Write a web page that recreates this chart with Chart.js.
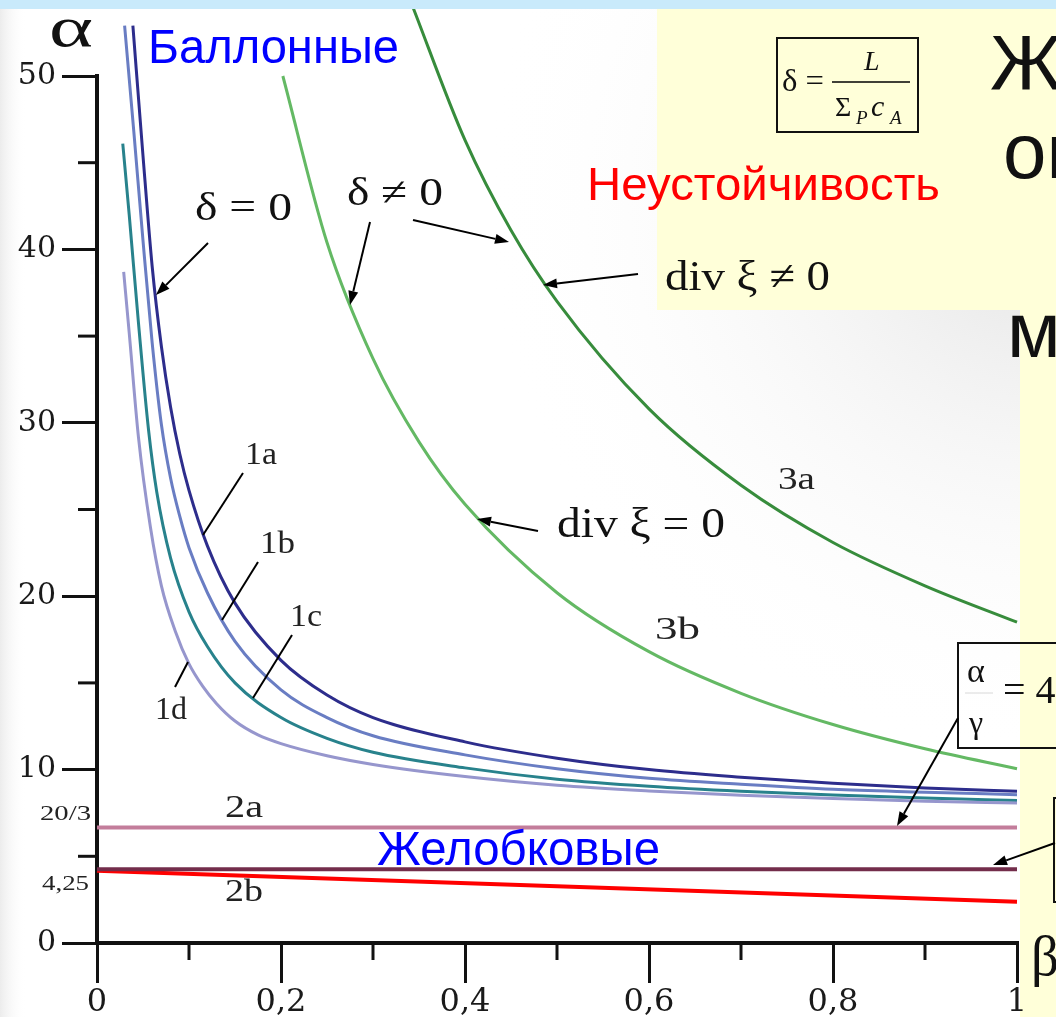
<!DOCTYPE html>
<html>
<head>
<meta charset="utf-8">
<script src="https://cdn.jsdelivr.net/npm/chart.js@4.4.0/dist/chart.umd.min.js"></script>
<style>
  html, body { margin: 0; padding: 0; background: #fff; }
  canvas { display: block; }
</style>
</head>
<body>
<canvas id="chart" width="1056" height="1017"></canvas>
<script>
// ballooning curves, delta = 0
const beta1a = [0.039, 0.05, 0.06, 0.07, 0.08, 0.09, 0.1, 0.12, 0.15, 0.2, 0.25, 0.3, 0.4, 0.5, 0.6, 0.7, 0.8, 0.9, 1];
const alpha1a = [52.9, 45.4, 39.0, 34.4, 30.9, 28.2, 26.1, 22.9, 19.6, 16.3, 14.3, 13.0, 11.6, 10.66, 10.0, 9.56, 9.21, 8.94, 8.75];
const beta1b = [0.03, 0.04, 0.05, 0.06, 0.07, 0.08, 0.09, 0.1, 0.12, 0.15, 0.2, 0.25, 0.3, 0.4, 0.5, 0.6, 0.7, 0.8, 0.9, 1];
const alpha1b = [52.9, 46.8, 40.5, 34.6, 29.9, 26.8, 24.6, 22.8, 20.2, 17.4, 14.6, 13.0, 11.95, 10.85, 10.05, 9.5, 9.15, 8.86, 8.7, 8.55];
const beta1c = [0.028, 0.035, 0.045, 0.056, 0.065, 0.08, 0.1, 0.12, 0.15, 0.2, 0.25, 0.3, 0.4, 0.5, 0.6, 0.7, 0.8, 0.9, 1];
const alpha1c = [46.1, 42.0, 35.8, 29.6, 26.0, 22.2, 19.1, 17.1, 15.0, 13.0, 11.8, 11.0, 10.1, 9.45, 9.04, 8.75, 8.53, 8.36, 8.22];
const beta1d = [0.029, 0.035, 0.045, 0.058, 0.07, 0.085, 0.1, 0.115, 0.13, 0.15, 0.175, 0.2, 0.25, 0.3, 0.4, 0.5, 0.6, 0.7, 0.8, 0.9, 1];
const alpha1d = [38.7, 35.2, 29.2, 24.0, 20.6, 18.0, 16.1, 14.8, 13.8, 12.8, 12.0, 11.5, 10.8, 10.3, 9.6, 9.1, 8.77, 8.52, 8.33, 8.18, 8.07];

// delta != 0 curves
const beta3a = [0.341, 0.4, 0.45, 0.5, 0.6, 0.7, 0.8, 0.9, 1];
const alpha3a = [54.3, 46.3, 41.1, 37.0, 30.8, 26.4, 23.1, 20.6, 18.5];
const beta3b = [0.202, 0.25, 0.3, 0.35, 0.4, 0.5, 0.6, 0.7, 0.8, 0.9, 1];
const alpha3b = [50.0, 40.4, 33.7, 28.9, 25.3, 20.2, 16.8, 14.4, 12.6, 11.2, 10.05];

// flute (interchange) limits
const betaLine = [0, 1];
const alpha2a = [6.667, 6.667];
const alpha2b = [4.25, 4.25];
const alphaRed = [4.17, 2.38];

const xTicks = [0, 0.2, 0.4, 0.6, 0.8, 1];
const xTickLabels = ['0', '0,2', '0,4', '0,6', '0,8', '1'];
const xMinor = [0.1, 0.3, 0.5, 0.7, 0.9];
const yTicks = [0, 10, 20, 30, 40, 50];
const yTickLabels = ['0', '10', '20', '30', '40', '50'];
const yMinor = [5, 15, 25, 35, 45];

function pairs(xs, ys) {
  return xs.map(function (x, i) { return { x: x, y: ys[i] }; });
}

function curve(label, xs, ys, color, width) {
  return {
    label: label,
    data: pairs(xs, ys),
    borderColor: color,
    borderWidth: width,
    pointRadius: 0,
    cubicInterpolationMode: 'monotone',
    clip: false
  };
}

function txt(ctx, str, x, y, font, color, width) {
  ctx.save();
  ctx.font = font;
  ctx.fillStyle = color;
  ctx.textAlign = 'left';
  ctx.textBaseline = 'alphabetic';
  ctx.translate(x, y);
  if (width) ctx.scale(width / ctx.measureText(str).width, 1);
  ctx.fillText(str, 0, 0);
  ctx.restore();
}

function seg(ctx, x1, y1, x2, y2, w) {
  ctx.save();
  ctx.strokeStyle = '#000';
  ctx.lineWidth = w || 2;
  ctx.beginPath();
  ctx.moveTo(x1, y1);
  ctx.lineTo(x2, y2);
  ctx.stroke();
  ctx.restore();
}

function arrow(ctx, x1, y1, x2, y2) {
  let a = Math.atan2(y2 - y1, x2 - x1);
  let len = 14, hw = 5;
  let bx = x2 - len * Math.cos(a), by = y2 - len * Math.sin(a);
  seg(ctx, x1, y1, bx, by, 2);
  ctx.save();
  ctx.fillStyle = '#000';
  ctx.beginPath();
  ctx.moveTo(x2, y2);
  ctx.lineTo(bx - hw * Math.sin(a), by + hw * Math.cos(a));
  ctx.lineTo(bx + hw * Math.sin(a), by - hw * Math.cos(a));
  ctx.closePath();
  ctx.fill();
  ctx.restore();
}

const serif = '"Liberation Serif", "Times New Roman", serif';
const tickSerif = '"DejaVu Serif", "Liberation Serif", serif';
const sans = '"Liberation Sans", Arial, sans-serif';

const slideBackground = {
  id: 'slideBackground',
  beforeDraw: function (chart) {
    const ctx = chart.ctx;
    ctx.save();
    ctx.fillStyle = '#ffffff';
    ctx.fillRect(0, 0, chart.width, chart.height);
    let g = ctx.createRadialGradient(1040, 200, 20, 1040, 200, 560);
    g.addColorStop(0, 'rgba(228,228,228,1)');
    g.addColorStop(1, 'rgba(255,255,255,0)');
    ctx.fillStyle = g;
    ctx.fillRect(0, 0, chart.width, chart.height);
    let l = ctx.createLinearGradient(0, 0, 26, 0);
    l.addColorStop(0, 'rgba(236,236,236,1)');
    l.addColorStop(1, 'rgba(255,255,255,0)');
    ctx.fillStyle = l;
    ctx.fillRect(0, 0, 26, chart.height);
    ctx.fillStyle = '#ffffd9';
    ctx.fillRect(657, 9, 399, 301);
    ctx.fillRect(1020, 309, 36, 708);
    ctx.restore();
  }
};

const annotations = {
  id: 'annotations',
  afterDraw: function (chart) {
    const ctx = chart.ctx;
    const xs = chart.scales.x, ys = chart.scales.y;

    // minor ticks
    ctx.save();
    ctx.strokeStyle = '#111';
    ctx.lineWidth = 3;
    xMinor.forEach(function (v) {
      let px = xs.getPixelForValue(v);
      ctx.beginPath();
      ctx.moveTo(px, ys.bottom);
      ctx.lineTo(px, ys.bottom + 17);
      ctx.stroke();
    });
    yMinor.forEach(function (v) {
      let py = ys.getPixelForValue(v);
      ctx.beginPath();
      ctx.moveTo(xs.left, py);
      ctx.lineTo(xs.left - 19, py);
      ctx.stroke();
    });
    ctx.restore();

    // top strip
    ctx.save();
    ctx.fillStyle = '#c9eafb';
    ctx.fillRect(0, 0, chart.width, 9);
    ctx.restore();

    // axis symbols and special tick labels
    txt(ctx, 'α', 49, 46, '58px ' + serif, '#111', 44);
    txt(ctx, 'β', 1031, 975, '58px ' + serif, '#111', 28);
    txt(ctx, '20/3', 40, 820, '21px ' + serif, '#222', 51);
    txt(ctx, '4,25', 42, 890, '21px ' + serif, '#222', 47);

    // region names
    txt(ctx, 'Баллонные', 148, 63, '48px ' + sans, '#0000ff', 251);
    txt(ctx, 'Желобковые', 377, 865, '48px ' + sans, '#0000ff', 283);
    txt(ctx, 'Неустойчивость', 587, 200, '46px ' + sans, '#ff0000', 353);

    // slide text cut off at the right
    txt(ctx, 'Ж', 990, 90, '78px ' + sans, '#111');
    txt(ctx, 'ог', 1003, 178, '78px ' + sans, '#111');
    txt(ctx, 'м', 1007, 357, '78px ' + sans, '#111');

    // curve labels
    const lab = '31px ' + serif;
    txt(ctx, '1a', 245, 464, lab, '#222', 32);
    txt(ctx, '1b', 260, 553, lab, '#222', 35);
    txt(ctx, '1c', 290, 626, lab, '#222', 32);
    txt(ctx, '1d', 155, 719, lab, '#222', 32);
    txt(ctx, '3a', 778, 489, lab, '#222', 37);
    txt(ctx, '3b', 655, 639, lab, '#222', 45);
    txt(ctx, '2a', 225, 817, lab, '#222', 38);
    txt(ctx, '2b', 225, 901, lab, '#222', 38);
    seg(ctx, 243, 473, 203, 535);
    seg(ctx, 258, 562, 222, 620);
    seg(ctx, 292, 635, 253, 698);
    seg(ctx, 188, 662, 175, 687);

    // delta labels and arrows
    const big = '40px ' + serif;
    txt(ctx, 'δ = 0', 195, 220, big, '#111', 97);
    arrow(ctx, 208, 243, 156, 295);
    txt(ctx, 'δ ≠ 0', 347, 205, big, '#111', 96);
    arrow(ctx, 370, 222, 350, 305);
    arrow(ctx, 413, 220, 509, 242);
    txt(ctx, 'div ξ ≠ 0', 665, 290, '42px ' + serif, '#111', 165);
    arrow(ctx, 638, 274, 543, 285);
    txt(ctx, 'div ξ = 0', 557, 537, '42px ' + serif, '#111', 168);
    arrow(ctx, 538, 531, 477, 519);

    // delta definition box
    ctx.save();
    ctx.strokeStyle = '#111';
    ctx.lineWidth = 2;
    ctx.strokeRect(777, 38, 141, 94);
    ctx.restore();
    txt(ctx, 'δ =', 782, 91, '32px ' + serif, '#111', 42);
    seg(ctx, 832, 82, 910, 82, 1.5);
    txt(ctx, 'L', 864, 70, 'italic 28px ' + serif, '#111');
    txt(ctx, 'Σ', 835, 116, '28px ' + serif, '#111');
    txt(ctx, 'P', 856, 124, 'italic 19px ' + serif, '#111');
    txt(ctx, 'c', 871, 116, 'italic 30px ' + serif, '#111');
    txt(ctx, 'A', 890, 124, 'italic 19px ' + serif, '#111');

    // alpha / gamma = 4 box
    ctx.save();
    ctx.strokeStyle = '#111';
    ctx.lineWidth = 2;
    ctx.strokeRect(958, 643, 110, 105);
    ctx.strokeRect(1054, 798, 20, 104);
    ctx.restore();
    txt(ctx, 'α', 967, 682, '34px ' + serif, '#111');
    ctx.save();
    ctx.strokeStyle = '#d8d8d8';
    ctx.lineWidth = 1;
    ctx.beginPath();
    ctx.moveTo(965, 693);
    ctx.lineTo(993, 693);
    ctx.stroke();
    ctx.restore();
    txt(ctx, 'γ', 969, 733, '32px ' + serif, '#111');
    txt(ctx, '= 4', 1003, 703, '40px ' + serif, '#111');
    arrow(ctx, 958, 718, 897, 826);
    arrow(ctx, 1055, 843, 993, 865);
  }
};

new Chart(document.getElementById('chart'), {
  type: 'line',
  data: {
    datasets: [
      curve('3a', beta3a, alpha3a, 'rgb(55,140,60)', 3),
      curve('3b', beta3b, alpha3b, 'rgb(100,185,100)', 3),
      curve('1d', beta1d, alpha1d, 'rgb(150,150,205)', 3),
      curve('1c', beta1c, alpha1c, 'rgb(40,130,140)', 3),
      curve('1b', beta1b, alpha1b, 'rgb(105,125,195)', 3),
      curve('1a', beta1a, alpha1a, 'rgb(45,45,140)', 3),
      curve('2a', betaLine, alpha2a, 'rgb(195,125,155)', 4),
      curve('2b', betaLine, alpha2b, 'rgb(115,45,75)', 4),
      curve('limit', betaLine, alphaRed, '#ff0000', 4)
    ]
  },
  options: {
    responsive: false,
    animation: false,
    layout: { padding: { top: 76, right: 39, bottom: 0, left: 0 } },
    plugins: {
      legend: { display: false },
      tooltip: { enabled: false }
    },
    scales: {
      x: {
        type: 'linear',
        min: 0,
        max: 1,
        afterBuildTicks: function (s) { s.ticks = xTicks.map(function (v) { return { value: v }; }); },
        afterFit: function (s) { s.height = 74; },
        grid: { drawOnChartArea: false, drawTicks: true, tickLength: 40, color: '#111', lineWidth: 3 },
        border: { display: true, color: '#111', width: 4 },
        ticks: {
          autoSkip: false,
          maxRotation: 0,
          padding: 0,
          color: '#1a1a1a',
          font: { family: tickSerif, size: 32 },
          callback: function (v, i) { return xTickLabels[i]; }
        }
      },
      y: {
        type: 'linear',
        min: 0,
        max: 50,
        afterBuildTicks: function (s) { s.ticks = yTicks.map(function (v) { return { value: v }; }); },
        afterFit: function (s) { s.width = 97; },
        grid: { drawOnChartArea: false, drawTicks: true, tickLength: 35, color: '#111', lineWidth: 3 },
        border: { display: true, color: '#111', width: 4 },
        ticks: {
          autoSkip: false,
          padding: 6,
          color: '#1a1a1a',
          font: { family: tickSerif, size: 30 },
          callback: function (v, i) { return yTickLabels[i]; }
        }
      }
    }
  },
  plugins: [slideBackground, annotations]
});
</script>
</body>
</html>
